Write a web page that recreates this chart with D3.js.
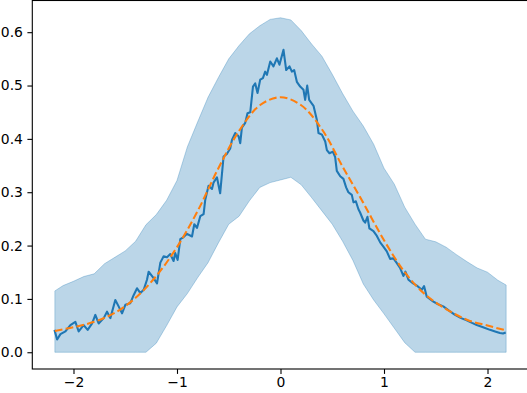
<!doctype html>
<html lang="en">
<head>
<meta charset="UTF-8">
<title>density band</title>
<style>
	body { margin: 0; background: #fff; }
	svg { display: block; }
	svg text { font-family: "DejaVu Sans", sans-serif; font-size: 13.9px; fill: #000; }
</style>
</head>
<body>
<svg class="chart"></svg>
<script src="https://cdn.jsdelivr.net/npm/d3@7/dist/d3.min.js"></script>
<script>
// noisy estimate (blue line)
var lineX = [-2.184, -2.158, -2.126, -2.078, -2.030, -1.982, -1.950, -1.902, -1.863, -1.820,
	-1.789, -1.757, -1.708, -1.676, -1.644, -1.596, -1.564, -1.531, -1.499, -1.451,
	-1.419, -1.386, -1.354, -1.322, -1.290, -1.274, -1.226, -1.193, -1.161, -1.129,
	-1.097, -1.065, -1.033, -1.017, -0.994, -0.968, -0.936, -0.903, -0.855, -0.833,
	-0.807, -0.775, -0.743, -0.727, -0.695, -0.662, -0.647, -0.614, -0.583, -0.550,
	-0.517, -0.486, -0.469, -0.437, -0.405, -0.389, -0.373, -0.341, -0.319, -0.292,
	-0.266, -0.244, -0.222, -0.196, -0.170, -0.148, -0.131, -0.099, -0.068, -0.035,
	-0.010, 0.029, 0.055, 0.087, 0.110, 0.132, 0.158, 0.190, 0.222, 0.238,
	0.258, 0.277, 0.319, 0.351, 0.367, 0.400, 0.432, 0.448, 0.473, 0.506,
	0.528, 0.544, 0.577, 0.608, 0.634, 0.656, 0.689, 0.705, 0.728, 0.753,
	0.769, 0.801, 0.818, 0.840, 0.859, 0.898, 0.931, 0.963, 0.994, 1.027,
	1.059, 1.091, 1.124, 1.155, 1.187, 1.207, 1.236, 1.281, 1.317, 1.365,
	1.387, 1.413, 1.477, 1.522, 1.573, 1.628, 1.686, 1.744, 1.799, 1.850,
	1.896, 1.957, 2.024, 2.073, 2.120, 2.150, 2.176];
var lineY = [0.042, 0.024, 0.034, 0.039, 0.051, 0.057, 0.039, 0.051, 0.042, 0.054,
	0.070, 0.054, 0.064, 0.076, 0.064, 0.098, 0.086, 0.073, 0.089, 0.092,
	0.107, 0.120, 0.111, 0.117, 0.136, 0.151, 0.139, 0.129, 0.168, 0.180,
	0.178, 0.184, 0.171, 0.186, 0.173, 0.212, 0.216, 0.222, 0.217, 0.240,
	0.233, 0.255, 0.259, 0.286, 0.312, 0.306, 0.318, 0.328, 0.298, 0.367,
	0.372, 0.382, 0.398, 0.411, 0.405, 0.392, 0.421, 0.430, 0.448, 0.450,
	0.498, 0.504, 0.486, 0.511, 0.514, 0.526, 0.520, 0.545, 0.536, 0.551,
	0.539, 0.567, 0.529, 0.536, 0.526, 0.529, 0.507, 0.498, 0.492, 0.473,
	0.500, 0.473, 0.462, 0.436, 0.411, 0.408, 0.395, 0.379, 0.373, 0.376,
	0.366, 0.340, 0.330, 0.325, 0.309, 0.300, 0.295, 0.281, 0.283, 0.268,
	0.262, 0.247, 0.243, 0.254, 0.232, 0.227, 0.218, 0.206, 0.198, 0.189,
	0.175, 0.176, 0.167, 0.158, 0.143, 0.151, 0.136, 0.129, 0.125, 0.117,
	0.124, 0.104, 0.095, 0.090, 0.086, 0.078, 0.070, 0.064, 0.060, 0.055,
	0.051, 0.047, 0.042, 0.039, 0.036, 0.035, 0.037];

// reference curve (orange dashed)
var curveX = [-2.18, -2.0, -1.8, -1.6, -1.4, -1.2, -1.0, -0.8, -0.6, -0.4, -0.2, 0,
	0.2, 0.4, 0.6, 0.8, 1.0, 1.2, 1.4, 1.6, 1.8, 2.0, 2.18];
var curveY = [0.040, 0.047, 0.057, 0.074, 0.102, 0.143, 0.197, 0.265, 0.345, 0.415, 0.463, 0.478,
	0.463, 0.418, 0.348, 0.280, 0.210, 0.150, 0.108, 0.081, 0.061, 0.050, 0.041];

// band
var bandX = [-2.18, -2.1, -2.0, -1.9, -1.8, -1.7, -1.6, -1.5, -1.4, -1.3, -1.2, -1.1, -1.0,
	-0.9, -0.8, -0.7, -0.6, -0.5, -0.4, -0.3, -0.2, -0.1, 0.0, 0.1, 0.2, 0.3, 0.4,
	0.5, 0.6, 0.7, 0.8, 0.9, 1.0, 1.1, 1.2, 1.3, 1.4, 1.5, 1.6, 1.7, 1.8, 1.9, 2.0, 2.1, 2.18];
var bandHi = [0.115, 0.125, 0.133, 0.142, 0.147, 0.166, 0.178, 0.190, 0.208, 0.239, 0.258, 0.285, 0.322,
	0.385, 0.432, 0.478, 0.515, 0.550, 0.575, 0.597, 0.612, 0.624, 0.627, 0.623, 0.603, 0.578, 0.555,
	0.521, 0.485, 0.452, 0.424, 0.390, 0.345, 0.315, 0.272, 0.240, 0.212, 0.207, 0.197, 0.183, 0.170,
	0.158, 0.150, 0.135, 0.126];
var bandLo = [0, 0, 0, 0, 0, 0, 0, 0, 0, 0, 0.017, 0.050, 0.085,
	0.110, 0.140, 0.168, 0.205, 0.240, 0.255, 0.284, 0.309, 0.318, 0.323, 0.328, 0.314, 0.290, 0.265,
	0.240, 0.208, 0.172, 0.128, 0.098, 0.072, 0.045, 0.018, 0, 0, 0, 0, 0, 0,
	0, 0, 0, 0];

var xTicks = [-2, -1, 0, 1, 2];
var yTicks = [0.0, 0.1, 0.2, 0.3, 0.4, 0.5, 0.6];

var W = 527, H = 393;
var padL = 32.3, padR = 528.7, padT = 0.5, padB = 369;

var svg = d3.select(".chart").attr("width", W).attr("height", H);

var x = d3.scaleLinear().domain([-2.398, 2.398]).range([padL, padR]);
var y = d3.scaleLinear().domain([-0.0314, 0.6594]).range([padB, padT]);

svg.append("clipPath").attr("id", "clip")
	.append("rect").attr("x", padL).attr("y", padT)
	.attr("width", padR - padL).attr("height", padB - padT);

var plot = svg.append("g").attr("clip-path", "url(#clip)");

var band = bandX.map(function(d, i) { return [d, bandLo[i], bandHi[i]]; });
plot.append("path")
	.datum(band)
	.attr("d", d3.area()
		.x(function(d) { return x(d[0]); })
		.y0(function(d) { return y(d[1]); })
		.y1(function(d) { return y(d[2]); }))
	.attr("fill", "#1f77b4").attr("fill-opacity", 0.3)
	.attr("stroke", "#1f77b4").attr("stroke-opacity", 0.3).attr("stroke-width", 1);

var pts = lineX.map(function(d, i) { return [d, lineY[i]]; });
plot.append("path")
	.datum(pts)
	.attr("d", d3.line().x(function(d) { return x(d[0]); }).y(function(d) { return y(d[1]); }))
	.attr("fill", "none").attr("stroke", "#1f77b4").attr("stroke-width", 2.08)
	.attr("stroke-linejoin", "round");

var cpts = curveX.map(function(d, i) { return [d, curveY[i]]; });
plot.append("path")
	.datum(cpts)
	.attr("d", d3.line().curve(d3.curveCatmullRom)
		.x(function(d) { return x(d[0]); }).y(function(d) { return y(d[1]); }))
	.attr("fill", "none").attr("stroke", "#ff7f0e").attr("stroke-width", 2.08)
	.attr("stroke-dasharray", "7.7,3.3");

// axes
var xAxis = d3.axisBottom(x).tickValues(xTicks).tickSize(4.9).tickPadding(3.5)
	.tickFormat(function(d) { return d < 0 ? "\u2212" + Math.abs(d) : d; });
var yAxis = d3.axisLeft(y).tickValues(yTicks).tickSize(4.9).tickPadding(4.5)
	.tickFormat(d3.format(".1f"));

var gx = svg.append("g").attr("transform", "translate(0," + padB + ")").call(xAxis);
var gy = svg.append("g").attr("transform", "translate(" + padL + ",0)").call(yAxis);

[gx, gy].forEach(function(g) {
	g.select(".domain").remove();
	g.selectAll("line").attr("stroke", "#000").attr("stroke-width", 1.1);
	g.selectAll("text").attr("font-family", "DejaVu Sans").attr("font-size", 13.9).attr("fill", "#000");
});

// spines
svg.append("rect")
	.attr("x", padL).attr("y", padT)
	.attr("width", padR - padL).attr("height", padB - padT)
	.attr("fill", "none").attr("stroke", "#000").attr("stroke-width", 1.1);
</script>
</body>
</html>
